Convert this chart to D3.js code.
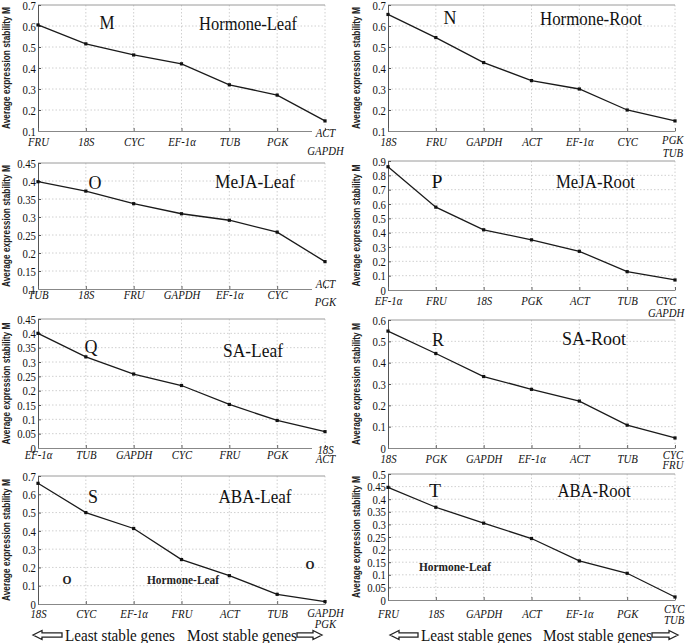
<!DOCTYPE html>
<html><head><meta charset="utf-8">
<script src="https://cdn.jsdelivr.net/npm/d3@7"></script>
<style>body{margin:0;background:#fff}svg{display:block}</style></head>
<body><svg id="c" width="685" height="643"></svg>
<script>
// ---- data ----
const genesHormoneLeaf = ["FRU","18S","CYC","EF-1α","TUB","PGK","ACT\nGAPDH"];
const valuesHormoneLeaf = [0.605,0.515,0.462,0.42,0.32,0.271,0.148];
const ticksHormoneLeaf = [0.1,0.2,0.3,0.4,0.5,0.6,0.7];

const genesHormoneRoot = ["18S","FRU","GAPDH","ACT","EF-1α","CYC","PGK\nTUB"];
const valuesHormoneRoot = [0.655,0.545,0.426,0.34,0.3,0.2,0.148];
const ticksHormoneRoot = [0.1,0.2,0.3,0.4,0.5,0.6,0.7];

const genesMeJALeaf = ["TUB","18S","FRU","GAPDH","EF-1α","CYC","ACT\nPGK"];
const valuesMeJALeaf = [0.398,0.372,0.337,0.309,0.291,0.258,0.176];
const ticksMeJALeaf = [0.1,0.15,0.2,0.25,0.3,0.35,0.4,0.45];

const genesMeJARoot = ["EF-1α","FRU","18S","PGK","ACT","TUB","CYC\nGAPDH"];
const valuesMeJARoot = [0.86,0.578,0.42,0.35,0.27,0.128,0.07];
const ticksMeJARoot = [0,0.1,0.2,0.3,0.4,0.5,0.6,0.7,0.8,0.9];

const genesSALeaf = ["EF-1α","TUB","GAPDH","CYC","FRU","PGK","18S\nACT"];
const valuesSALeaf = [0.4,0.318,0.258,0.218,0.152,0.096,0.057];
const ticksSALeaf = [0,0.05,0.1,0.15,0.2,0.25,0.3,0.35,0.4,0.45];

const genesSARoot = ["18S","PGK","GAPDH","EF-1α","ACT","TUB","CYC\nFRU"];
const valuesSARoot = [0.548,0.443,0.335,0.275,0.22,0.107,0.047];
const ticksSARoot = [0,0.1,0.2,0.3,0.4,0.5,0.6];

const genesABALeaf = ["18S","CYC","EF-1α","FRU","ACT","TUB","GAPDH\nPGK"];
const valuesABALeaf = [0.66,0.5,0.413,0.243,0.155,0.053,0.013];
const ticksABALeaf = [0,0.1,0.2,0.3,0.4,0.5,0.6,0.7];

const genesABARoot = ["FRU","18S","GAPDH","ACT","EF-1α","PGK","CYC\nTUB"];
const valuesABARoot = [0.447,0.368,0.305,0.244,0.155,0.106,0.012];
const ticksABARoot = [0,0.05,0.1,0.15,0.2,0.25,0.3,0.35,0.4,0.45,0.5];

const panelLetters = ["M","N","O","P","Q","R","S","T"];
const panelTitles = ["Hormone-Leaf","Hormone-Root","MeJA-Leaf","MeJA-Root","SA-Leaf","SA-Root","ABA-Leaf","ABA-Root"];
const yLabel = "Average expression stability M";
const footerLeft = "Least stable genes";
const footerRight = "Most stable genes";

// ---- layout ----
const genesList = [genesHormoneLeaf,genesHormoneRoot,genesMeJALeaf,genesMeJARoot,genesSALeaf,genesSARoot,genesABALeaf,genesABARoot];
const valuesList = [valuesHormoneLeaf,valuesHormoneRoot,valuesMeJALeaf,valuesMeJARoot,valuesSALeaf,valuesSARoot,valuesABALeaf,valuesABARoot];
const ticksList = [ticksHormoneLeaf,ticksHormoneRoot,ticksMeJALeaf,ticksMeJARoot,ticksSALeaf,ticksSARoot,ticksABALeaf,ticksABARoot];
const tops = [5,5,163,161,319,320,476,474];
const bottoms = [131,131,289,290,448,448,604,600];
const colX = [38,388];
const plotW = 287;
// x-label vertical centre offsets from axis: regular, 2-line first, 2-line second
const labOff = [[10.7,1,20],[10.7,9,22],[5.5,-6,12.5],[10.7,11,22.5],[6,1,11],[10.3,6.5,17],[10,8.5,20],[14,9,19.5]];
const letterPos = [[107,29,15],[450,24,13],[95,188.5,13],[437,188,11],[91,353,13],[438,346,12],[93,503,10],[435,497,12]];
const titlePos = [[248,29.5,98],[591,25,102],[255,188,80],[595.5,188,79],[253,357,60],[594,345,64],[255,503,73],[594,497,73]];

const svg = d3.select("#c");
const fmt = v => String(+v.toFixed(2));
const serif = "'Liberation Serif','Times New Roman',Times,serif";

// probe: how wide is the serif font compared to Times metrics
const probe = svg.append("text").style("font-family", serif).style("font-size", "100px").text("Hormone-Leaf");
const fontFactor = 584 / probe.node().getComputedTextLength();
probe.remove();
const squeeze = 0.84 * fontFactor;

for (let i = 0; i < 8; i++) {
  const x0 = colX[i % 2], x1 = x0 + plotW, top = tops[i], bot = bottoms[i];
  const genes = genesList[i], vals = valuesList[i], ticks = ticksList[i];
  const x = d3.scalePoint().domain(genes).range([x0, x1]);
  const y = d3.scaleLinear().domain([ticks[0], ticks[ticks.length-1]]).range([bot, top]);
  const g = svg.append("g");
  const off = labOff[i];

  // grid
  g.selectAll(".hg").data(ticks.slice(1, -1)).join("line")
    .attr("x1", x0).attr("x2", x1).attr("y1", d => y(d)).attr("y2", d => y(d))
    .attr("stroke", "#c4c4c4").attr("stroke-width", 0.8).attr("stroke-dasharray", "1.5,2");
  g.selectAll(".vg").data(genes.slice(1)).join("line")
    .attr("x1", d => x(d)).attr("x2", d => x(d)).attr("y1", top).attr("y2", bot)
    .attr("stroke", "#c4c4c4").attr("stroke-width", 0.8).attr("stroke-dasharray", "1.5,2");
  // top border
  g.append("line").attr("x1", x0).attr("x2", x1).attr("y1", top).attr("y2", top)
    .attr("stroke", "#9a9a9a").attr("stroke-width", 1);

  // y axis
  const ya = g.append("g").attr("transform", `translate(${x0},0)`)
    .call(d3.axisLeft(y).tickValues(ticks).tickFormat(fmt).tickSizeInner(-3).tickSizeOuter(0).tickPadding(2.5));
  ya.select(".domain").attr("stroke", "#555");
  ya.selectAll(".tick line").attr("stroke", "#555");
  ya.selectAll("text").style("font-family", serif).style("font-size", "13px").attr("fill", "#111")
    .attr("transform", `scale(${squeeze},1)`);

  // x axis
  const xa = g.append("g").attr("transform", `translate(0,${bot})`)
    .call(d3.axisBottom(x).tickSizeInner(-3).tickSizeOuter(0).tickFormat(""));
  xa.select(".domain").attr("stroke", "#888");
  if (off[1] < 6) xa.select(".domain").attr("d", `M${x0},0.5H${x1 - 13}`);
  xa.selectAll(".tick line").attr("stroke", "#666");
  xa.selectAll(".tick").each(function(d) {
    const lines = d.split("\n");
    const cx = x(d);
    const t = d3.select(this).append("text").attr("fill", "#111")
      .style("font-family", serif).style("font-style", "italic").style("font-size", "13px")
      .attr("text-anchor", "middle");
    lines.forEach((ln, k) => {
      t.append("tspan").attr("x", 0)
        .attr("y", (lines.length > 1 ? off[1 + k] : off[0]) + 4.5).text(ln);
    });
    // keep within the picture on the right
    const w = t.node().getBBox().width * squeeze;
    let shift = 0;
    if (cx + w / 2 > 684) shift = 684 - (cx + w / 2);
    t.attr("transform", `translate(${shift},0) scale(${squeeze},1)`);
  });

  // line and points
  const pts = genes.map((gn, k) => [x(gn), y(vals[k])]);
  g.append("path").attr("d", d3.line()(pts)).attr("fill", "none")
    .attr("stroke", "#1a1a1a").attr("stroke-width", 1.3);
  g.selectAll(".pt").data(pts).join("rect")
    .attr("x", d => d[0] - 1.6).attr("y", d => d[1] - 1.6).attr("width", 3.2).attr("height", 3.2)
    .attr("fill", "#111");

  // y label
  const lx = x0 - 31, ly = (top + bot) / 2;
  g.append("text").attr("transform", `translate(${lx},${ly}) rotate(-90)`)
    .attr("text-anchor", "middle").attr("dominant-baseline", "middle")
    .style("font-family", "'Liberation Sans',Arial,sans-serif").style("font-size", "10px").style("font-weight", "bold")
    .attr("textLength", 122).attr("lengthAdjust", "spacingAndGlyphs")
    .attr("fill", "#222").text(yLabel);

  // letter and title
  g.append("text").attr("x", letterPos[i][0]).attr("y", letterPos[i][1])
    .attr("text-anchor", "middle")
    .attr("textLength", letterPos[i][2]).attr("lengthAdjust", "spacingAndGlyphs")
    .style("font-family", serif).style("font-size", "18.5px").attr("fill", "#111").text(panelLetters[i]);
  g.append("text").attr("x", titlePos[i][0]).attr("y", titlePos[i][1])
    .attr("text-anchor", "middle")
    .attr("textLength", titlePos[i][2]).attr("lengthAdjust", "spacingAndGlyphs")
    .style("font-family", serif).style("font-size", "18.5px").attr("fill", "#111").text(panelTitles[i]);
}

// stray annotations in the bottom panels
const notes = [
  {x: 67, y: 584, t: "O", s: 13, w: 9}, {x: 310, y: 569, t: "O", s: 13, w: 9},
  {x: 183, y: 584, t: "Hormone-Leaf", s: 12, w: 72}, {x: 455, y: 571, t: "Hormone-Leaf", s: 12, w: 72}
];
svg.selectAll(".note").data(notes).join("text")
  .attr("x", d => d.x).attr("y", d => d.y).attr("text-anchor", "middle")
  .attr("textLength", d => d.w).attr("lengthAdjust", "spacingAndGlyphs")
  .style("font-family", serif).style("font-weight", "bold").style("font-size", d => d.s + "px").attr("fill", "#222")
  .text(d => d.t);

// footer arrows & texts
function arrow(xa, xb, yc, dir) {
  const head = 9, hh = 4.5, sh = 2.2;
  let p;
  if (dir < 0) p = [[xa,yc],[xa+head,yc-hh],[xa+head,yc-sh],[xb,yc-sh],[xb,yc+sh],[xa+head,yc+sh],[xa+head,yc+hh]];
  else p = [[xb,yc],[xb-head,yc-hh],[xb-head,yc-sh],[xa,yc-sh],[xa,yc+sh],[xb-head,yc+sh],[xb-head,yc+hh]];
  svg.append("path").attr("d", d3.line()(p) + "Z").attr("fill", "#fff").attr("stroke", "#222").attr("stroke-width", 1.3);
}
const footers = [
  {a1: [33, 62], t1: [65, 110], t2: [187, 110], a2: [297, 322]},
  {a1: [390, 418], t1: [421, 111], t2: [543, 109], a2: [652, 678]}
];
const fy = 640.5;
footers.forEach(f => {
  arrow(f.a1[0], f.a1[1], fy - 5.5, -1);
  arrow(f.a2[0], f.a2[1], fy - 5.5, 1);
  svg.append("text").attr("x", f.t1[0]).attr("y", fy)
    .style("font-family", serif).style("font-size", "16px").attr("fill", "#111")
    .attr("textLength", f.t1[1]).attr("lengthAdjust", "spacingAndGlyphs").text(footerLeft);
  svg.append("text").attr("x", f.t2[0]).attr("y", fy)
    .style("font-family", serif).style("font-size", "16px").attr("fill", "#111")
    .attr("textLength", f.t2[1]).attr("lengthAdjust", "spacingAndGlyphs").text(footerRight);
});
</script>
</body></html>
